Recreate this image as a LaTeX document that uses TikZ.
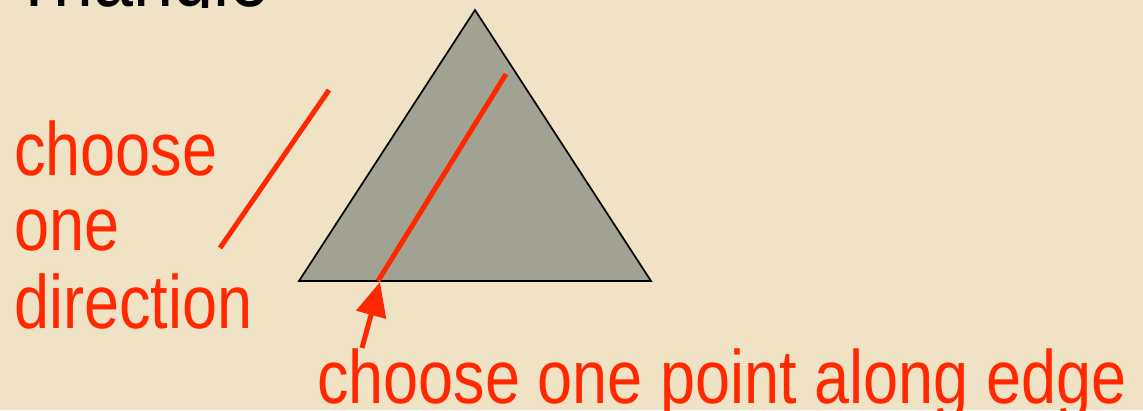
\documentclass[tikz,border=0pt]{standalone}
\usepackage{fontspec}
\setmainfont{Liberation Sans}
\usetikzlibrary{arrows.meta}
\definecolor{bgc}{RGB}{240,227,197}
\definecolor{redc}{RGB}{255,40,0}
\definecolor{trigray}{RGB}{162,162,147}
\tikzset{
  redline/.style={draw=redc,line width=5pt},
  redtext/.style={text=redc,inner sep=0pt,anchor=base west,font=\fontsize{63}{75}\selectfont},
  trishape/.style={fill=trigray,draw=black,line width=1.7pt,line join=miter},
  pointer/.style={draw=redc,line width=5pt,-{Triangle[length=34pt,width=30pt]}}
}
\newcommand{\tallbox}[1]{\scalebox{1}[1.2]{#1}}
\begin{document}
\begin{tikzpicture}[x=1pt,y=-1pt]
\fill[bgc] (0,0) rectangle (1143,410);
\useasboundingbox (0,0) rectangle (1143,410);
% clipped title
\begin{scope}
\clip (0,0) rectangle (300,7);
\node[inner sep=0pt,anchor=base west,font=\fontsize{72}{86}\selectfont] (title) at (12,6) {\tallbox{Triangle}};
\end{scope}
% triangle
\coordinate (apex) at (475,10);
\coordinate (bl) at (299,281);
\coordinate (br) at (651,281);
\path[trishape] (apex) -- (bl) -- (br) -- cycle;
% red lines
\coordinate (inTop) at (506,74);
\coordinate (inBot) at (378,281);
\draw[redline] (inTop) -- (inBot);
\coordinate (dirTop) at (329,90);
\coordinate (dirBot) at (220,248);
\draw[redline] (dirTop) -- (dirBot);
% labels
\node[redtext] (l1) at (14,175) {\tallbox{choose}};
\node[redtext] (l2) at (14,250) {\tallbox{one}};
\node[redtext] (l3) at (14,328) {\tallbox{direction}};
\node[redtext] (bottom) at (317,403) {\tallbox{choose one point along edge}};
% pointer arrow
\coordinate (arrTail) at (362,348);
\coordinate (arrTip) at (380,282);
\draw[pointer] (arrTail) -- (arrTip);
\end{tikzpicture}
\end{document}
